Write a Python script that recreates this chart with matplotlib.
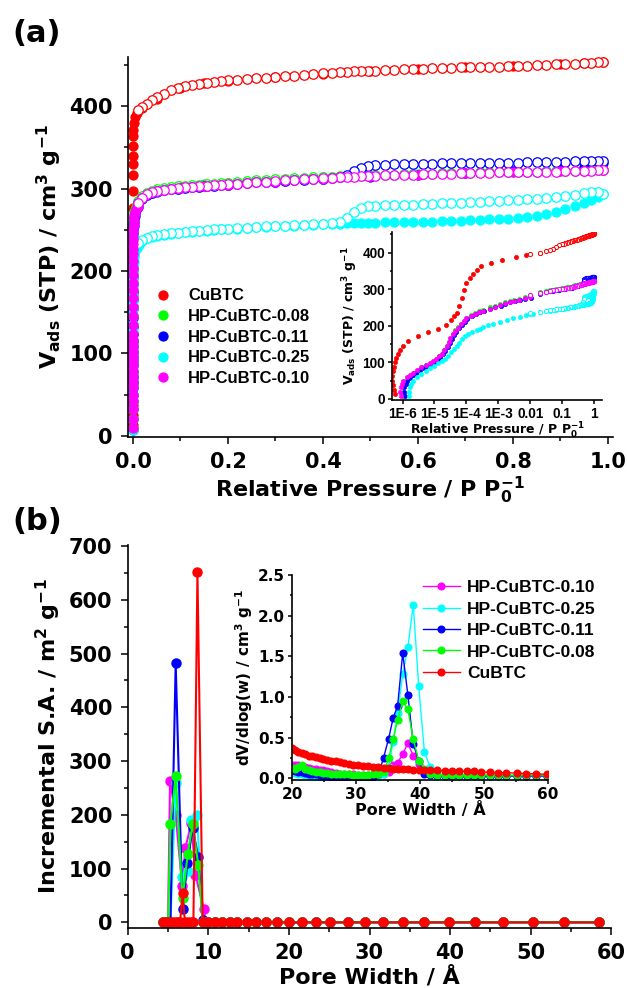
import numpy as np
import matplotlib
matplotlib.use("Agg")
import matplotlib.pyplot as plt
from matplotlib.ticker import MultipleLocator, LogLocator, NullFormatter

plt.rcParams['font.family'] = ['DejaVu Sans']
plt.rcParams['font.weight'] = 'bold'
plt.rcParams['axes.labelweight'] = 'bold'
plt.rcParams['mathtext.default'] = 'bf'

# -------- (a) N2 isotherms --------
names = ["CuBTC", "HP-CuBTC-0.08", "HP-CuBTC-0.11", "HP-CuBTC-0.25", "HP-CuBTC-0.10"]
colors = ["#FF0000", "#00FF00", "#0000FF", "#00FFFF", "#FF00FF"]

# low-pressure adsorption points, log10(P/P0) and volume
red_logp_low = [-6.24, -6.27, -6.30, -6.32, -6.32, -6.31, -6.28, -6.24, -6.20, -6.14, -6.07, -6.00,
                -5.82, -5.51, -5.20, -4.88, -4.64, -4.47, -4.38, -4.31, -4.23, -4.15, -4.08, -4.00,
                -3.90, -3.79, -3.66, -3.53, -3.23, -2.90, -2.46, -2.12]
red_v_low = [13, 25, 38, 50, 62, 75, 88, 100, 112, 123, 135, 145,
             158, 171, 183, 192, 201, 217, 226, 235, 255, 276, 297, 317,
             330, 340, 352, 364, 371, 380, 387, 392]
green_logp_low = [-5.98, -6.00, -5.99, -5.96, -5.92, -5.83, -5.73, -5.63, -5.50, -5.38, -5.25, -5.12, -5.02,
                  -4.93, -4.85, -4.77, -4.69, -4.61, -4.55, -4.49, -4.42, -4.35, -4.26, -4.17, -4.08, -3.99,
                  -3.86, -3.73, -3.60, -3.47, -3.27, -3.11, -2.95, -2.80, -2.64, -2.50, -2.35, -2.18, -2.01]
green_v_low = [9, 20, 32, 42, 50, 59, 66, 72, 79, 86, 92, 97, 103,
               109, 116, 124, 134, 145, 156, 167, 177, 187, 197, 206, 214, 222,
               230, 236, 240, 244, 250, 255, 259, 264, 268, 271, 274, 278, 281]
blue_logp_low = [-5.92, -5.95, -5.94, -5.90, -5.85, -5.77, -5.68, -5.58, -5.46, -5.34, -5.21, -5.09, -4.99,
                 -4.90, -4.82, -4.74, -4.66, -4.58, -4.52, -4.46, -4.39, -4.32, -4.24, -4.15, -4.06, -3.97,
                 -3.84, -3.71, -3.58, -3.45, -3.25, -3.09, -2.93, -2.78, -2.62, -2.48, -2.33, -2.16, -1.99]
blue_v_low = [7, 20, 32, 42, 50, 58, 65, 71, 78, 85, 91, 96, 102,
              108, 115, 123, 132, 143, 154, 165, 175, 184, 194, 203, 211, 219,
              227, 233, 237, 240, 246, 251, 255, 260, 264, 267, 270, 274, 277]
cyan_logp_low = [-5.79, -5.80, -5.77, -5.72, -5.67, -5.55, -5.41, -5.28, -5.14, -5.01, -4.88, -4.77,
                 -4.67, -4.57, -4.47, -4.39, -4.31, -4.23, -4.15, -4.05, -3.94, -3.81, -3.68, -3.57,
                 -3.47, -3.32, -3.16, -2.95, -2.74, -2.53, -2.33, -2.12, -1.91]
cyan_v_low = [7, 20, 32, 42, 50, 59, 68, 76, 84, 91, 97, 103,
              109, 118, 127, 136, 145, 154, 163, 171, 178, 183, 187, 192,
              196, 201, 205, 211, 217, 221, 224, 228, 231]
magenta_logp_low = [-6.05, -6.07, -6.06, -6.03, -5.98, -5.87, -5.77, -5.67, -5.54, -5.41, -5.27, -5.14, -5.04,
                    -4.94, -4.86, -4.78, -4.70, -4.62, -4.56, -4.50, -4.43, -4.36, -4.27, -4.18, -4.09, -4.00,
                    -3.86, -3.73, -3.60, -3.47, -3.27, -3.11, -2.95, -2.80, -2.64, -2.50, -2.35, -2.18, -2.01]
magenta_v_low = [9, 20, 32, 42, 50, 59, 66, 72, 79, 86, 92, 97, 103,
                 109, 116, 124, 134, 145, 156, 167, 177, 186, 195, 204, 212, 220,
                 227, 233, 237, 240, 247, 252, 256, 261, 265, 268, 271, 275, 278]

# adsorption above P/P0 = 0.01 (coarse grid)
p_ads_hi = [0.02, 0.05, 0.1, 0.15, 0.2, 0.3, 0.4, 0.5, 0.6, 0.7, 0.8, 0.9, 0.95, 0.99]
red_ads_hi = [398, 409, 422, 427.5, 431, 435, 439.5, 442.5, 445, 447, 448.5, 450.5, 452, 453]
green_ads_hi = [290, 298.5, 303, 305, 306.5, 310.5, 313.5, 315.5, 317.5, 319, 320.5, 321.5, 322, 322.5]
blue_ads_hi = [287.5, 296, 300.5, 302.5, 304, 308, 311.5, 314.5, 317, 319, 321, 323, 326, 331]
magenta_ads_hi = [288.5, 296.5, 301, 303, 304.5, 308.5, 312, 315, 317, 318.5, 320, 321, 321.5, 322]

# desorption grid (and cyan adsorption, which opens a visible loop)
p_des = [0.99, 0.98, 0.965, 0.95, 0.93, 0.91, 0.89, 0.87, 0.85, 0.83,
         0.81, 0.79, 0.77, 0.75, 0.73, 0.71, 0.69, 0.67, 0.65, 0.63,
         0.61, 0.59, 0.57, 0.55, 0.53, 0.51, 0.495, 0.48, 0.465, 0.45,
         0.435, 0.42, 0.40, 0.38, 0.36, 0.34, 0.32, 0.30, 0.28, 0.26,
         0.24, 0.22, 0.20, 0.185, 0.17, 0.155, 0.14, 0.125, 0.11, 0.095,
         0.08, 0.065, 0.05, 0.04, 0.03, 0.02, 0.01]
cyan_ads_hi = [293, 290, 286, 283, 279, 275, 271.5, 269, 267, 265.5,
               264.5, 263.5, 263, 262.5, 262, 261.5, 261, 260.5, 260.5, 260,
               260, 259.5, 259.5, 259, 259, 258.5, 258.5, 258.5, 258, 258,
               257.5, 257, 256.5, 256, 255.5, 255, 254.5, 254, 253.5, 253,
               252, 251.5, 251, 250.5, 250, 249, 248.5, 247.5, 247, 246,
               245, 244, 242.5, 241, 239.5, 236.5, 232]
red_des = [453, 453, 452, 452, 451, 451, 450.5, 450, 449.5, 449,
           449, 448.5, 448, 448, 447.5, 447, 447, 446.5, 446, 446,
           445.5, 445, 444.5, 444, 443.5, 443, 443, 442.5, 442, 441.5,
           441, 440.5, 440, 439, 438, 437, 436, 435.5, 434.5, 433.5,
           433, 432, 431.5, 430.5, 429.5, 428.5, 427, 425.5, 424, 422,
           419.5, 415, 410.5, 407, 403, 399, 395]
green_des = [322.5, 322.5, 322, 322, 321.5, 321.5, 321, 321, 320.5, 320.5,
             320.5, 320, 320, 319.5, 319.5, 319, 319, 318.5, 318.5, 318,
             318, 317.5, 317.5, 317, 316.5, 316, 316, 315.5, 315.5, 315,
             315, 314.5, 314, 313.5, 313, 312.5, 312, 311, 310.5, 310,
             309, 308, 307, 306.5, 306, 305, 304.5, 304, 303.5, 302.5,
             301.5, 300.5, 299, 297.5, 295, 291, 285]
blue_des = [333.5, 333.5, 333, 333, 333, 332.5, 332.5, 332, 332, 332,
            331.5, 331.5, 331.5, 331, 331, 331, 330.5, 330.5, 330.5, 330,
            330, 330, 329.5, 329.5, 329, 328.5, 327.5, 325, 321, 317,
            314.5, 313, 312, 311.5, 310.5, 310, 309.5, 308.5, 308, 307.5,
            306.5, 305.5, 304.5, 304, 303.5, 302.5, 302, 301.5, 301, 300,
            299, 298, 296.5, 295, 292.5, 288.5, 282]
cyan_des = [293, 295.5, 296, 294, 292.5, 291, 289.5, 288.5, 287.5, 287,
            286.5, 285.5, 285, 284.5, 284, 283.5, 283, 282.5, 282, 281.5,
            281, 280.5, 280, 280, 279.5, 279, 278.5, 276, 272, 264,
            260, 258.5, 257.5, 256.5, 256, 255.5, 255, 254.5, 254, 253,
            252.5, 252, 251.5, 251, 250.5, 249.5, 249, 248, 247.5, 246.5,
            245.5, 244.5, 243.5, 242, 240.5, 237.5, 233.5]
magenta_des = [322, 322, 321.5, 321.5, 321, 321, 320.5, 320.5, 320, 320,
               320, 319.5, 319.5, 319, 319, 318.5, 318.5, 318, 318, 317.5,
               317.5, 317, 317, 316.5, 316, 315.5, 315.5, 315, 314.5, 314,
               313.5, 313, 312.5, 312, 311, 310.5, 310, 309, 308.5, 308,
               307, 306, 305, 304.5, 304, 303, 302.5, 302, 301.5, 300.5,
               299.5, 298.5, 297, 295.5, 293, 289, 283]

# -------- (b) pore size distributions --------
sa_tail_w = [9.65, 10.0, 10.8, 11.7, 12.7, 13.6, 14.8, 15.9, 17.2, 18.5, 20.0, 21.6, 23.4,
             25.1, 27.3, 29.4, 31.7, 34.2, 36.8, 39.9, 43.1, 46.5, 50.3, 54.1, 58.5]
sa_tail = [0, 0, 0, 0, 0, 0, 0, 0, 0, 0, 0, 0, 0,
           0, 0, 0, 0, 0, 0, 0, 0, 0, 0, 0, 0]
red_w = [4.4, 4.7, 5.0, 5.3, 5.65, 5.95, 6.25, 6.5, 6.8, 7.1, 7.5, 7.85, 8.15, 8.65, 9.3]
red_sa = [0, 0, 0, 0, 0, 0, 0, 0, 55, 0, 0, 0, 0, 652, 0]
green_w = [4.4, 4.7, 5.0, 5.3, 5.95, 6.8, 7.45, 8.05, 8.75, 9.3]
green_sa = [0, 0, 0, 183, 272, 45, 127, 183, 107, 0]
blue_w = [4.4, 4.7, 5.0, 5.3, 5.95, 6.8, 7.4, 8.05, 8.75, 9.3]
blue_sa = [0, 0, 0, 0, 482, 25, 110, 175, 122, 5]
cyan_w = [4.4, 4.7, 5.0, 5.3, 5.95, 6.7, 7.5, 7.9, 8.6, 9.3]
cyan_sa = [0, 0, 0, 0, 260, 85, 95, 190, 200, 0]
magenta_w = [4.4, 4.7, 5.0, 5.25, 5.95, 6.75, 7.15, 7.9, 8.4, 9.45]
magenta_sa = [0, 0, 0, 263, 200, 68, 138, 185, 88, 25]

# inset: dV/dlog(w) between 20 and 60 A
psd_w = [20.0, 20.5, 21.0, 21.5, 22.0, 22.6, 23.1, 23.7, 24.3, 24.9,
         25.5, 26.1, 26.8, 27.5, 28.2, 28.9, 29.6, 30.3, 31.1, 31.9,
         32.7, 33.5, 34.3, 35.1, 35.8, 36.5, 37.3, 38.1, 38.95, 39.8,
         40.7, 41.6, 42.7, 43.9, 45.0, 46.1, 47.3, 48.4, 49.6, 50.9,
         52.2, 53.5, 55.1, 56.6, 58.2, 59.8]
red_psd = [.37, .35, .33, .31, .30, .28, .27, .26, .25, .24,
           .23, .22, .21, .20, .19, .18, .17, .165, .155, .15,
           .14, .135, .13, .125, .12, .115, .11, .11, .105, .10,
           .10, .10, .10, .095, .09, .09, .085, .085, .08, .075,
           .07, .07, .065, .06, .055, .05]
green_psd = [.13, .12, .14, .17, .11, .10, .09, .08, .08, .07,
             .07, .06, .06, .05, .05, .05, .04, .04, .04, .04,
             .05, .05, .08, .25, .48, .72, .95, .85, .48, .22,
             .12, .05, .04, .04, .04, .04, .04, .04, .04, .04,
             .04, .04, .04, .04, .04, .04]
blue_psd = [.10, .09, .08, .08, .07, .06, .05, .05, .04, .03,
            .03, .02, .02, .02, .01, .01, .01, .01, .01, .02,
            .02, .05, .25, .49, .74, .89, 1.54, 1.03, .42, .22,
            .06, .04, .03, .03, .03, .03, .03, .03, .03, .03,
            .03, .03, .03, .03, .03, .03]
cyan_psd = [.08, .07, .06, .05, .04, .03, .03, .02, .02, .01,
            .01, .01, .00, .00, .00, .00, .00, .00, .00, .01,
            .01, .02, .06, .14, .45, .80, 1.28, 1.61, 2.13, 1.13,
            .32, .14, .05, .04, .04, .03, .03, .03, .03, .03,
            .03, .03, .03, .03, .03, .03]
magenta_psd = [.17, .16, .16, .15, .14, .13, .12, .11, .10, .10,
               .09, .08, .07, .06, .06, .05, .05, .04, .04, .04,
               .04, .05, .05, .08, .16, .19, .30, .43, .28, .18,
               .08, .05, .04, .04, .04, .04, .03, .03, .03, .03,
               .03, .03, .03, .03, .03, .03]

iso = [
    (red_logp_low, red_v_low, p_ads_hi, red_ads_hi, red_des),
    (green_logp_low, green_v_low, p_ads_hi, green_ads_hi, green_des),
    (blue_logp_low, blue_v_low, p_ads_hi, blue_ads_hi, blue_des),
    (cyan_logp_low, cyan_v_low, p_des, cyan_ads_hi, cyan_des),
    (magenta_logp_low, magenta_v_low, p_ads_hi, magenta_ads_hi, magenta_des),
]
sa = [(red_w, red_sa), (green_w, green_sa), (blue_w, blue_sa), (cyan_w, cyan_sa), (magenta_w, magenta_sa)]
psd = [red_psd, green_psd, blue_psd, cyan_psd, magenta_psd]
order_b = [4, 3, 2, 1, 0]   # panel (b) drawn with CuBTC last (on top)

ARIAL = "Liberation Sans"


def style(ax, size, length=5, family="DejaVu Sans", pad=6):
    for s in ("top", "right"):
        ax.spines[s].set_visible(False)
    for s in ("left", "bottom"):
        ax.spines[s].set_linewidth(1.2)
    ax.tick_params(which="both", direction="out", width=1.1, labelsize=size,
                   pad=pad, labelfontfamily=family)
    ax.tick_params(which="major", length=length)
    ax.tick_params(which="minor", length=length * 0.6)


fig = plt.figure(figsize=(6.27, 9.88), dpi=100)

# ---------------- panel (a) ----------------
ax = fig.add_axes([0.2045, 0.558, 0.7727, 0.3847])
for (lp, vl, ph, vh, vd), c, n in zip(iso, colors, names):
    p_ads = np.concatenate([10.0 ** np.array(lp), ph])
    v_ads = np.concatenate([vl, vh])
    ax.plot(p_ads, v_ads, "o", ms=6.6, color=c, mec=c, mew=0.8, label=n)
    ax.plot(p_des, vd, "o", ms=6.8, mfc="white", mec=c, mew=0.9)
ax.set_xlim(-0.01, 1.01)
ax.set_ylim(-1, 460)
ax.xaxis.set_major_locator(MultipleLocator(0.2))
ax.xaxis.set_minor_locator(MultipleLocator(0.1))
ax.yaxis.set_major_locator(MultipleLocator(100))
ax.yaxis.set_minor_locator(MultipleLocator(50))
ax.xaxis.set_major_formatter(plt.FormatStrFormatter("%.1f"))
style(ax, 15)
ax.set_xlabel(r"Relative Pressure / P P$_{0}^{-1}$", fontsize=16, labelpad=2)
ax.set_ylabel(r"V$_{ads}$ (STP) / cm$^{3}$ g$^{-1}$", fontsize=16, labelpad=4)
ax.legend(loc="upper left", bbox_to_anchor=(0.0546, 0.39), frameon=False,
          borderpad=0, borderaxespad=0, handlelength=1.0, handletextpad=1.0,
          labelspacing=0.34, prop={"family": ARIAL, "weight": "bold", "size": 12})

# inset (a)
axi = fig.add_axes([0.6252, 0.5955, 0.3357, 0.170])
for (lp, vl, ph, vh, vd), c in zip(iso, colors):
    p_ads = np.concatenate([10.0 ** np.array(lp), ph])
    v_ads = np.concatenate([vl, vh])
    axi.plot(p_ads, v_ads, "o", ms=3, color=c, mec=c, mew=0.5)
    axi.plot(p_des, vd, "o", ms=3, mfc="white", mec=c, mew=0.7)
axi.set_xscale("log")
axi.set_xlim(10 ** -6.33, 10 ** 0.26)
axi.set_ylim(-2, 457)
axi.set_xticks([1e-6, 1e-5, 1e-4, 1e-3, 1e-2, 1e-1, 1],
               ["1E-6", "1E-5", "1E-4", "1E-3", "0.01", "0.1", "1"])
axi.xaxis.set_minor_locator(LogLocator(base=10, subs=np.arange(2, 10)))
axi.xaxis.set_minor_formatter(NullFormatter())
axi.yaxis.set_major_locator(MultipleLocator(100))
axi.yaxis.set_minor_locator(MultipleLocator(50))
style(axi, 9.8, length=3, family=ARIAL, pad=2)
axi.set_xlabel(r"Relative Pressure / P P$_{0}^{-1}$", fontsize=9, labelpad=0)
axi.set_ylabel(r"V$_{ads}$ (STP) / cm$^{3}$ g$^{-1}$", fontsize=9, labelpad=2)
axi.patch.set_alpha(0)

# ---------------- panel (b) ----------------
bx = fig.add_axes([0.2037, 0.061, 0.7713, 0.3874])
for k in order_b:
    w, v = sa[k]
    bx.plot(w + sa_tail_w, v + sa_tail, "-o", color=colors[k], lw=1.5, ms=6.5, label=names[k])
bx.set_xlim(0, 60)
bx.set_ylim(-10, 702)
bx.xaxis.set_major_locator(MultipleLocator(10))
bx.xaxis.set_minor_locator(MultipleLocator(5))
bx.yaxis.set_major_locator(MultipleLocator(100))
bx.yaxis.set_minor_locator(MultipleLocator(50))
style(bx, 15)
bx.set_xlabel("Pore Width / Å", fontsize=16, labelpad=2)
bx.set_ylabel(r"Incremental S.A. / m$^{2}$ g$^{-1}$", fontsize=16, labelpad=4)

# inset (b)
bxi = fig.add_axes([0.4657, 0.2105, 0.4083, 0.2075])
for k in order_b:
    bxi.plot(psd_w, psd[k], "-o", color=colors[k], lw=1.0, ms=4.8, label=names[k])
bxi.set_xlim(20, 60)
bxi.set_ylim(-0.02, 2.5)
bxi.xaxis.set_major_locator(MultipleLocator(10))
bxi.xaxis.set_minor_locator(MultipleLocator(5))
bxi.yaxis.set_major_locator(MultipleLocator(0.5))
bxi.yaxis.set_minor_locator(MultipleLocator(0.25))
bxi.yaxis.set_major_formatter(plt.FormatStrFormatter("%.1f"))
style(bxi, 11, length=3, pad=2)
bxi.set_xlabel("Pore Width / Å", fontsize=11.5, labelpad=0)
bxi.set_ylabel(r"dV/dlog(w) / cm$^{3}$ g$^{-1}$", fontsize=11, labelpad=2)
bxi.legend(loc="upper left", bbox_to_anchor=(0.512, 0.975), frameon=False,
           borderpad=0, borderaxespad=0, handlelength=2.1, handletextpad=0.45,
           labelspacing=0.36, numpoints=1,
           prop={"family": ARIAL, "weight": "bold", "size": 12.5})

fig.text(0.02, 1 - 33 / 988, "(a)", fontsize=22, fontweight="bold", va="center")
fig.text(0.02, 1 - 521 / 988, "(b)", fontsize=22, fontweight="bold", va="center")

fig.savefig("out.png", dpi=100)
